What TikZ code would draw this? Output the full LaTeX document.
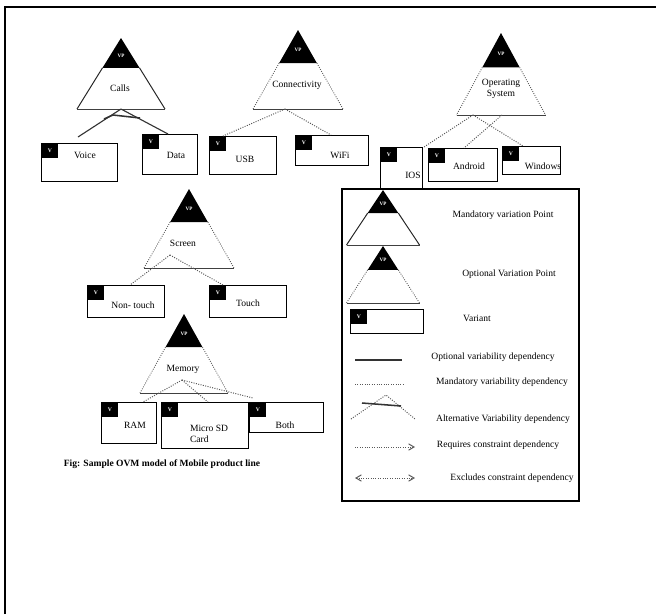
\documentclass[tikz,border=0pt]{standalone}
\usepackage{fontspec}
\setmainfont{Liberation Serif}
\usepackage{tikz}
\usetikzlibrary{arrows}

% variation point: name, apex x, apex y, height, half width, side style
\newcommand{\varpoint}[6]{%
\coordinate (#1) at (#2,#3);
\path (#1) ++(-0.42*#5,0.42*#4) coordinate (#1-tl) ++(0.84*#5,0) coordinate (#1-tr);
\path (#1) ++(-#5,#4) coordinate (#1-bl) ++(2*#5,0) coordinate (#1-br);
\fill (#1) -- (#1-tl) -- (#1-tr) -- cycle;
\draw[#6] (#1-tl) -- (#1-bl) (#1-tr) -- (#1-br);
\draw[vpbase] (#1-bl) -- (#1-br);
\node[vptag] (#1-tag) at (#2,#3+0.25*#4) {VP};
}

\begin{document}
\begin{tikzpicture}[x=0.025cm, y=-0.025cm,
  lbl/.style={font=\fontsize{6.8}{7.6}\selectfont, align=left, inner sep=0pt},
  capt/.style={font=\fontsize{6.8}{7.6}\selectfont\bfseries, inner sep=0pt},
  vptag/.style={text=white, font=\fontsize{3.6}{4}\selectfont\bfseries, inner sep=0pt},
  vtag/.style={fill=black, text=white, font=\fontsize{4}{4}\selectfont\bfseries, inner sep=0pt, anchor=north west,
    minimum width=17*0.025cm, minimum height=15*0.025cm},
  varbox/.style={draw, line width=0.7pt, anchor=north west, inner sep=0pt},
  solidside/.style={black!85, line width=0.7pt},
  dotside/.style={black!70, densely dotted, line width=0.6pt},
  vpbase/.style={black!75, line width=0.6pt},
  opt/.style={black!80, line width=0.8pt},
  mand/.style={black!65, densely dotted, line width=0.7pt}]
\useasboundingbox (0,0) rectangle (656,614);
\draw[line width=1.5pt] (5,614) -- (5,7) -- (656,7);

% variation points
\varpoint{calls}{121}{38}{71}{44}{solidside}
\varpoint{conn}{298}{30}{79}{45}{dotside}
\varpoint{os}{501}{33}{82}{44.5}{dotside}
\varpoint{screen}{189}{189}{79}{45}{dotside}
\varpoint{memory}{184}{314}{79}{44}{dotside}
\node[lbl] (calls-l) at (120,88) {Calls};
\node[lbl] (conn-l) at (297,85) {Connectivity};
\node[lbl, align=center] (os-l) at (501,89) {Operating\\System};
\node[lbl] (screen-l) at (183,243) {Screen};
\node[lbl] (memory-l) at (183,369) {Memory};

% variants
\foreach \n/\x/\y/\w/\h/\tx/\ty/\t in {
  voice/41/143/76/38/85/155/Voice,
  data/142/134/55/40/176/155/Data,
  usb/209/136/67/38/245/159/USB,
  wifi/295/135/73/30/340/155/WiFi,
  ios/380/147/42/42/413/175/IOS,
  android/428/148/69/33/469/166/Android,
  windows/502/146/58/28/543/166/Windows,
  nontouch/87/285/77/32/133/305/Non- touch,
  touch/209/285/77/32/248/303/Touch,
  ram/101/402/55/41/135/425/RAM,
  microsd/161/402/87/46/209/434/{Micro SD\\Card},
  both/249/402/74/30/285/425/Both}{
  \node[varbox, minimum width=\w*0.025cm, minimum height=\h*0.025cm] (\n) at (\x,\y) {};
  \node[vtag] (\n-v) at (\n.north west) {V};
  \node[lbl] (\n-l) at (\tx,\ty) {\t};
}

% dependencies
\coordinate (calls-j) at (121,109);
\coordinate (voice-in) at (78,137);
\coordinate (data-in) at (168,134);
\draw[opt] (calls-j) -- (voice-in);
\draw[opt] (calls-j) -- (data-in);
\draw[opt, line width=1.1pt] (104,119) -- (113,115) -- (140,118);

\coordinate (conn-j) at (285,109);
\coordinate (usb-in) at (223,136);
\coordinate (wifi-in) at (331,135);
\draw[mand] (conn-j) -- (usb-in);
\draw[mand] (conn-j) -- (wifi-in);

\coordinate (os-j1) at (473,115);
\coordinate (os-j2) at (502,115);
\coordinate (ios-in) at (424,147);
\coordinate (android-in) at (464,148);
\coordinate (windows-in) at (523,146);
\draw[mand] (os-j1) -- (ios-in);
\draw[mand] (os-j1) -- (windows-in);
\draw[mand] (os-j2) -- (android-in);

\coordinate (screen-j) at (170,255);
\coordinate (nontouch-in) at (130,285);
\coordinate (touch-in) at (223,285);
\draw[mand] (screen-j) -- (nontouch-in);
\draw[mand] (screen-j) -- (touch-in);

\coordinate (memory-j) at (182,380);
\coordinate (ram-in) at (143,402);
\coordinate (microsd-in) at (208,402);
\coordinate (both-in) at (253,398);
\draw[mand] (memory-j) -- (ram-in);
\draw[mand] (memory-j) -- (microsd-in);
\draw[mand] (memory-j) -- (both-in);

\node[capt] (caption) at (162,464) {Fig: Sample OVM model of Mobile product line};

% legend
\draw[line width=0.8pt] (342,189) rectangle (579,501);
\varpoint{lgm}{383}{190}{55}{36.5}{solidside}
\varpoint{lgo}{383}{246}{57}{36.5}{dotside}
\node[varbox, minimum width=73*0.025cm, minimum height=24*0.025cm] (lgv) at (350,309) {};
\node[vtag] (lgv-v) at (lgv.north west) {V};
\draw[opt] (355,360) -- (402,360);
\draw[mand] (355,384) -- (403,384);
\draw[mand] (351,419) -- (386,395) -- (415,419);
\draw[opt, line width=1.1pt] (362,403) -- (401,406);
\draw[mand, -angle 60] (355,447) -- (415,447);
\draw[mand, angle 60-angle 60] (355,478) -- (415,478);
\node[lbl] (lgm-l) at (503,215) {Mandatory variation Point};
\node[lbl] (lgo-l) at (509,274) {Optional Variation Point};
\node[lbl] (lgv-l) at (477,318) {Variant};
\node[lbl] (lg1-l) at (493,357) {Optional variability dependency};
\node[lbl] (lg2-l) at (502,382) {Mandatory variability dependency};
\node[lbl] (lg3-l) at (503,419) {Alternative Variability dependency};
\node[lbl] (lg4-l) at (498,445) {Requires constraint dependency};
\node[lbl] (lg5-l) at (512,478) {Excludes constraint dependency};
\end{tikzpicture}
\end{document}
